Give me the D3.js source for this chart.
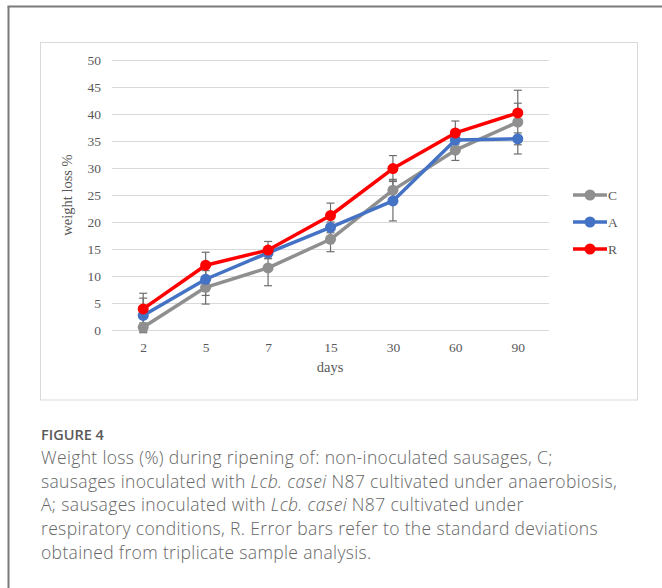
<!DOCTYPE html>
<html>
<head>
<meta charset="utf-8">
<script src="https://cdn.jsdelivr.net/npm/d3@7"></script>
<style>
  html, body { margin: 0; padding: 0; background: #fff; }
  svg { display: block; }
</style>
</head>
<body>
<svg id="chart" width="662" height="588"></svg>
<script>
// Ripening days (categorical x axis)
const days = ["2", "5", "7", "15", "30", "60", "90"];

// Mean weight loss (%) per treatment
const seriesC = [0.5, 7.9, 11.5, 16.8, 25.9, 33.3, 38.5];
const seriesA = [2.7, 9.4, 14.3, 19.0, 23.9, 35.2, 35.4];
const seriesR = [3.9, 12.0, 14.8, 21.2, 29.9, 36.5, 40.2];

// Standard deviations (triplicate analysis)
const sdC = [0.8, 3.1, 3.3, 2.3, 2.0, 1.9, 5.9];
const sdA = [3.2, 3.0, 1.0, 1.0, 3.7, 1.2, 1.1];
const sdR = [2.9, 2.4, 1.6, 2.3, 2.4, 2.2, 1.8];

const yTicks = [0, 5, 10, 15, 20, 25, 30, 35, 40, 45, 50];

const seriesNames = ["C", "A", "R"];
const seriesColors = ["#8f8f8f", "#4472c4", "#ff0000"];

const series = [
  { name: seriesNames[0], values: seriesC, sd: sdC, color: seriesColors[0] },
  { name: seriesNames[1], values: seriesA, sd: sdA, color: seriesColors[1] },
  { name: seriesNames[2], values: seriesR, sd: sdR, color: seriesColors[2] }
];

const svg = d3.select("#chart");

// Outer article frame (left and top rules)
svg.append("line").attr("x1", 8.5).attr("x2", 8.5).attr("y1", 6.5).attr("y2", 588)
  .attr("stroke", "#7a7a7a").attr("stroke-width", 2);
svg.append("line").attr("x1", 7.5).attr("x2", 662).attr("y1", 6.5).attr("y2", 6.5)
  .attr("stroke", "#7a7a7a").attr("stroke-width", 2);

// Chart box
svg.append("rect").attr("x", 40.5).attr("y", 42.5).attr("width", 597).attr("height", 357.5)
  .attr("fill", "#fff").attr("stroke", "#d9d9d9").attr("stroke-width", 1);

const plot = { left: 112, right: 549, top: 60, bottom: 330 };

const x = d3.scalePoint().domain(days).range([plot.left, plot.right]).padding(0.5);
const y = d3.scaleLinear().domain([0, 50]).range([plot.bottom, plot.top]);

// Gridlines
svg.append("g").selectAll("line").data(yTicks).join("line")
  .attr("x1", plot.left).attr("x2", plot.right)
  .attr("y1", d => Math.round(y(d)) + 0.5).attr("y2", d => Math.round(y(d)) + 0.5)
  .attr("stroke", "#d9d9d9").attr("stroke-width", 1);

// Y axis labels
const yAxis = svg.append("g").attr("transform", `translate(${plot.left},0)`)
  .call(d3.axisLeft(y).tickValues(yTicks).tickSize(0).tickPadding(11));
yAxis.select(".domain").remove();
yAxis.selectAll("text")
  .attr("font-family", "'Liberation Serif', 'Times New Roman', serif")
  .attr("font-size", 13.5).attr("fill", "#595959");

// X axis labels
const xAxis = svg.append("g").attr("transform", `translate(0,${plot.bottom})`)
  .call(d3.axisBottom(x).tickSize(0).tickPadding(12));
xAxis.select(".domain").remove();
xAxis.selectAll("text")
  .attr("font-family", "'Liberation Serif', 'Times New Roman', serif")
  .attr("font-size", 13.5).attr("fill", "#595959");

// Axis titles
svg.append("text").attr("x", (plot.left + plot.right) / 2 - 0.5).attr("y", 372)
  .attr("text-anchor", "middle")
  .attr("font-family", "'Liberation Serif', 'Times New Roman', serif")
  .attr("font-size", 14.5).attr("fill", "#595959").text("days");
svg.append("text").attr("transform", `translate(72,${(plot.top + plot.bottom) / 2}) rotate(-90)`)
  .attr("text-anchor", "middle")
  .attr("font-family", "'Liberation Serif', 'Times New Roman', serif")
  .attr("font-size", 14.5).attr("fill", "#595959").text("weight loss %");

// Error bars
const errG = svg.append("g");
series.forEach(s => {
  s.values.forEach((v, i) => {
    const cx = x(days[i]);
    const y0 = y(v - s.sd[i]), y1 = y(v + s.sd[i]);
    errG.append("line").attr("x1", cx).attr("x2", cx).attr("y1", y0).attr("y2", y1)
      .attr("stroke", "#6e6e6e").attr("stroke-width", 1.2);
    [y0, y1].forEach(yy => {
      errG.append("line").attr("x1", cx - 4).attr("x2", cx + 4).attr("y1", yy).attr("y2", yy)
        .attr("stroke", "#6e6e6e").attr("stroke-width", 1.2);
    });
  });
});

// Lines and markers
const line = d3.line().x((d, i) => x(days[i])).y(d => y(d));
series.forEach(s => {
  svg.append("path").datum(s.values).attr("d", line)
    .attr("fill", "none").attr("stroke", s.color).attr("stroke-width", 3.5)
    .attr("stroke-linejoin", "round");
  svg.append("g").selectAll("circle").data(s.values).join("circle")
    .attr("cx", (d, i) => x(days[i])).attr("cy", d => y(d)).attr("r", 5.5)
    .attr("fill", s.color);
});

// Legend
const legend = svg.append("g");
series.forEach((s, i) => {
  const ly = 195 + i * 27;
  legend.append("line").attr("x1", 573).attr("x2", 607).attr("y1", ly).attr("y2", ly)
    .attr("stroke", s.color).attr("stroke-width", 3.5);
  legend.append("circle").attr("cx", 590).attr("cy", ly).attr("r", 5.5).attr("fill", s.color);
  legend.append("text").attr("x", 608).attr("y", ly + 4.5)
    .attr("font-family", "'Liberation Serif', 'Times New Roman', serif")
    .attr("font-size", 13.5).attr("fill", "#595959").text(s.name);
});

// Caption
const capFont = "'Open Sans', 'Noto Sans', sans-serif";
svg.append("text").attr("x", 41).attr("y", 440)
  .attr("font-family", capFont).attr("font-size", 14.5).attr("font-weight", 600)
  .attr("fill", "#5a5a5a").text("FIGURE 4");

const captionLines = [
  [["Weight loss (%) during ripening of: non-inoculated sausages, C;", false]],
  [["sausages inoculated with ", false], ["Lcb. casei", true], [" N87 cultivated under anaerobiosis,", false]],
  [["A; sausages inoculated with ", false], ["Lcb. casei", true], [" N87 cultivated under", false]],
  [["respiratory conditions, R. Error bars refer to the standard deviations", false]],
  [["obtained from triplicate sample analysis.", false]]
];
captionLines.forEach((parts, i) => {
  const t = svg.append("text").attr("x", 41).attr("y", 464 + i * 23.7)
    .attr("font-family", capFont).attr("font-size", 17.5).attr("font-weight", 300)
    .attr("letter-spacing", 0.35).attr("fill", "#666666");
  parts.forEach(([str, it]) => {
    t.append("tspan").attr("font-style", it ? "italic" : "normal").text(str);
  });
});
</script>
</body>
</html>
